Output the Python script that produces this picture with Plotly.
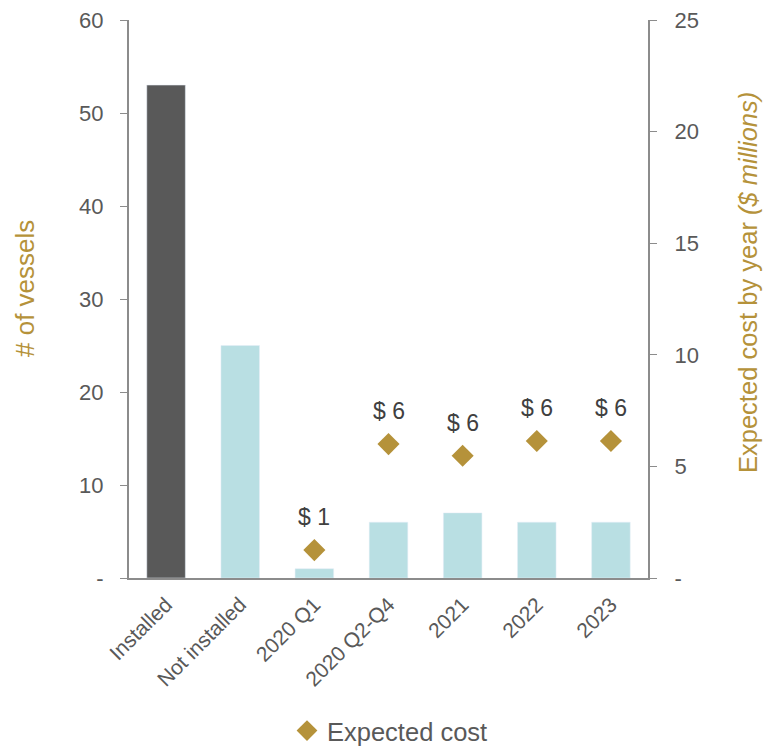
import plotly.graph_objects as go

categories = ["Installed", "Not installed", "2020 Q1", "2020 Q2-Q4", "2021", "2022", "2023"]
vessels = [53, 25, 1, 6, 7, 6, 6]
bar_colors = ["#595959", "#b9dfe3", "#b9dfe3", "#b9dfe3", "#b9dfe3", "#b9dfe3", "#b9dfe3"]
cost_categories = ["2020 Q1", "2020 Q2-Q4", "2021", "2022", "2023"]
expected_cost = [1.25, 6.0, 5.48, 6.14, 6.14]
cost_labels = ["$ 1", "$ 6", "$ 6", "$ 6", "$ 6"]
left_ticks = [0, 10, 20, 30, 40, 50, 60]
left_ticktext = ["-", "10", "20", "30", "40", "50", "60"]
right_ticks = [0, 5, 10, 15, 20, 25]
right_ticktext = ["-", "5", "10", "15", "20", "25"]

FONT = "Liberation Sans, Arial, sans-serif"
GOLD = "#b5923a"
GRAY = "#595959"
AX = "#8c8c8c"

W, H = 763, 747
ML, MR, MT, MB = 129, 115, 20, 169
PW, PH = W - ML - MR, H - MT - MB

x_pos = list(range(len(categories)))
cost_pos = [categories.index(c) for c in cost_categories]

fig = go.Figure()
fig.add_trace(go.Bar(x=x_pos, y=vessels, marker=dict(color=bar_colors), width=0.52,
                     showlegend=False, yaxis="y"))
fig.add_trace(go.Scatter(x=cost_pos, y=expected_cost, mode="markers",
                         marker=dict(symbol="diamond", size=17, color=GOLD),
                         name="Expected cost", yaxis="y2"))
for p, v, t in zip(cost_pos, expected_cost, cost_labels):
    fig.add_annotation(x=p, y=v, xref="x", yref="y2", text=t, showarrow=False, yshift=33,
                       font=dict(size=23, color="#404040", family=FONT))

# axis titles placed as annotations (pixel positions from reference)
fig.add_annotation(xref="paper", yref="paper", x=(25 - ML) / PW, y=(H - MB - 289) / PH,
                   text="# of vessels", textangle=-90, showarrow=False,
                   xanchor="center", yanchor="middle",
                   font=dict(size=26, color=GOLD, family=FONT))
fig.add_annotation(xref="paper", yref="paper", x=(748 - ML) / PW, y=(H - MB - 283) / PH,
                   text="Expected cost by year <i>($ millions)</i>", textangle=-90,
                   showarrow=False, xanchor="center", yanchor="middle",
                   font=dict(size=25.5, color=GOLD, family=FONT))

fig.update_layout(
    width=W, height=H,
    margin=dict(l=ML, r=MR, t=MT, b=MB, autoexpand=False),
    plot_bgcolor="white", paper_bgcolor="white",
    font=dict(family=FONT, size=18, color=GRAY),
    xaxis=dict(range=[-0.5, len(categories) - 0.5], tickvals=x_pos, ticktext=categories,
               showline=True, linecolor=AX, linewidth=2, tickangle=-45,
               tickfont=dict(size=21, color=GRAY), ticks="", showgrid=False, zeroline=False,
               ticklabelstandoff=4, automargin=False),
    yaxis=dict(range=[0, 60], tickvals=left_ticks, ticktext=left_ticktext,
               showline=True, linecolor=AX, linewidth=2, ticks="outside",
               ticklen=7, tickcolor=AX, showgrid=False, zeroline=False,
               tickfont=dict(size=22, color=GRAY), ticklabelstandoff=12, automargin=False),
    yaxis2=dict(range=[0, 25], tickvals=right_ticks, ticktext=right_ticktext,
                overlaying="y", side="right", showline=True, linecolor=AX, linewidth=2,
                ticks="outside", ticklen=7, tickcolor=AX, showgrid=False, zeroline=False,
                tickfont=dict(size=22, color=GRAY), ticklabelstandoff=13, automargin=False),
    legend=dict(orientation="h", x=(390 - ML) / PW, xanchor="center",
                y=-(731 - (H - MB)) / PH, yanchor="middle",
                font=dict(size=25.5, color=GRAY), itemwidth=30),
)

fig.write_html("out.html")
